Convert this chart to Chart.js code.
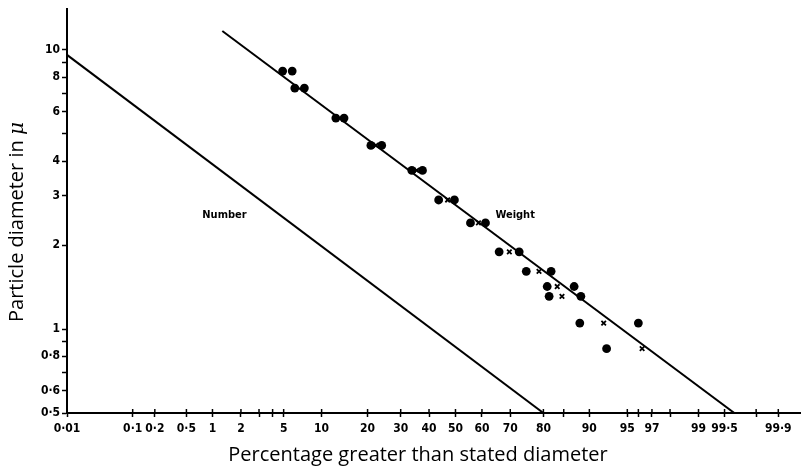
<!DOCTYPE html>
<html>
<head>
<meta charset="utf-8">
<script src="https://cdn.jsdelivr.net/npm/chart.js@4/dist/chart.umd.min.js"></script>
<style>
html,body{margin:0;padding:0;background:#fff;}
#wrap{width:806px;height:473px;position:relative;}
</style>
</head>
<body>
<div id="wrap"><canvas id="c" width="806" height="473"></canvas></div>
<script>
// ---------- data ----------
const xTickPercents = [0.01,0.1,0.2,0.5,1,2,5,10,20,30,40,50,60,70,80,90,95,97,99,99.5,99.9];
const xTickLabels   = ['0·01','0·1','0·2','0·5','1','2','5','10','20','30','40','50','60','70','80','90','95','97','99','99·5','99·9'];
const xMinorPercents = [3,4,85,96,98,99.8];
const yTickValues = [0.5,0.6,0.7,0.8,0.9,1,2,3,4,5,6,7,8,9,10];
const yTickLabels = ['0·5','0·6','','0·8','','1','2','3','4','','6','','8','','10'];

const numberLinePct = [0.01, 80];
const numberLineDia = [9.6, 0.5];
const weightLinePct = [1.28, 99.62];
const weightLineDia = [11.7, 0.5];

const dotsLeftPct  = [4.9, 6.2, 12.6, 20.9, 33.8, 43.6, 55.7, 66.2, 75.1, 81.0, 81.5, 88.3, 92.6];
const dotsLeftDia  = [8.4, 7.3, 5.7, 4.55, 3.7, 2.9, 2.4, 1.89, 1.61, 1.42, 1.31, 1.05, 0.85];
const dotsRightPct = [5.9, 7.4, 14.3, 24.0, 37.6, 49.6, 61.3, 72.9, 82.0, 87.2, 88.5, 96.0];
const dotsRightDia = [8.4, 7.3, 5.7, 4.55, 3.7, 2.9, 2.4, 1.89, 1.61, 1.42, 1.31, 1.05];
const crossPct = [22.3, 35.5, 47.0, 58.7, 69.7, 78.8, 83.5, 84.6, 92.2, 96.3];
const crossDia = [4.55, 3.7, 2.9, 2.4, 1.89, 1.61, 1.42, 1.31, 1.05, 0.85];

const curveLabels = ['Number', 'Weight'];
const curveLabelPct = [1.35, 71.6];
const curveLabelDia = [2.55, 2.55];

const xTitle = 'Percentage greater than stated diameter';
const yTitle = 'Particle diameter in ';
const yTitleUnit = 'μ';

// ---------- probability (probit) transform ----------
function probit(p){
  const a=[-3.969683028665376e+01,2.209460984245205e+02,-2.759285104469687e+02,1.383577518672690e+02,-3.066479806614716e+01,2.506628277459239e+00];
  const b=[-5.447609879822406e+01,1.615858368580409e+02,-1.556989798598866e+02,6.680131188771972e+01,-1.328068155288572e+01];
  const c=[-7.784894002430293e-03,-3.223964580411365e-01,-2.400758277161838e+00,-2.549732539343734e+00,4.374664141464968e+00,2.938163982698783e+00];
  const d=[7.784695709041462e-03,3.224671290700398e-01,2.445134137142996e+00,3.754408661907416e+00];
  const pl=0.02425, ph=1-pl; let q,r;
  if(p<pl){q=Math.sqrt(-2*Math.log(p));return (((((c[0]*q+c[1])*q+c[2])*q+c[3])*q+c[4])*q+c[5])/((((d[0]*q+d[1])*q+d[2])*q+d[3])*q+1);}
  if(p<=ph){q=p-0.5;r=q*q;return (((((a[0]*r+a[1])*r+a[2])*r+a[3])*r+a[4])*r+a[5])*q/(((((b[0]*r+b[1])*r+b[2])*r+b[3])*r+b[4])*r+1);}
  q=Math.sqrt(-2*Math.log(1-p));return -(((((c[0]*q+c[1])*q+c[2])*q+c[3])*q+c[4])*q+c[5])/((((d[0]*q+d[1])*q+d[2])*q+d[3])*q+1);
}
const zOf = pct => probit(pct/100);
const pts = (P, D) => P.map((p,i)=>({x:zOf(p), y:D[i]}));

const xTicksAll = xTickPercents.map((p,i)=>({value:zOf(p), label:xTickLabels[i]}))
  .concat(xMinorPercents.map(p=>({value:zOf(p), label:''})))
  .sort((a,b)=>a.value-b.value);

const tickFont = {family:"'Liberation Sans Narrow','DejaVu Sans Condensed','Liberation Sans',sans-serif", size:12, weight:'bold'};

const textPlugin = {
  id:'texts',
  afterDraw(chart){
    const ctx = chart.ctx, xs = chart.scales.x, ys = chart.scales.y;
    ctx.save();
    ctx.fillStyle = '#000';
    ctx.strokeStyle = '#000';
    // inward halves of the x tick marks
    ctx.lineWidth = 1.5;
    xTicksAll.forEach(t=>{
      const px = xs.getPixelForValue(t.value);
      ctx.beginPath(); ctx.moveTo(px, xs.top); ctx.lineTo(px, xs.top - 4); ctx.stroke();
    });
    // curve labels
    ctx.font = "bold 11px 'Liberation Sans Narrow','DejaVu Sans Condensed',sans-serif";
    ctx.textAlign = 'center'; ctx.textBaseline = 'middle';
    curveLabels.forEach((t,i)=>{
      ctx.fillText(t, xs.getPixelForValue(zOf(curveLabelPct[i])), ys.getPixelForValue(curveLabelDia[i]));
    });
    // x title
    ctx.font = "20px 'Open Sans',sans-serif";
    ctx.textAlign = 'center'; ctx.textBaseline = 'alphabetic';
    ctx.fillText(xTitle, 418, 461);
    // y title (rotated), italic unit
    ctx.translate(23, 222);
    ctx.rotate(-Math.PI/2);
    ctx.font = "20px 'Open Sans',sans-serif";
    const w1 = ctx.measureText(yTitle).width;
    ctx.font = "italic 20px 'DejaVu Serif',serif";
    const w2 = ctx.measureText(yTitleUnit).width;
    const start = -(w1+w2)/2;
    ctx.textAlign = 'left';
    ctx.font = "20px 'Open Sans',sans-serif";
    ctx.fillText(yTitle, start, 0);
    ctx.font = "italic 20px 'DejaVu Serif',serif";
    ctx.fillText(yTitleUnit, start + w1, 0);
    ctx.restore();
  }
};

new Chart(document.getElementById('c'), {
  type:'scatter',
  data:{
    datasets:[
      {label:'Number', data:pts(numberLinePct, numberLineDia), showLine:true, borderColor:'#000', borderWidth:2, pointRadius:0, fill:false},
      {label:'Weight', data:pts(weightLinePct, weightLineDia), showLine:true, borderColor:'#000', borderWidth:2, pointRadius:0, fill:false},
      {label:'dots A', data:pts(dotsLeftPct, dotsLeftDia), pointStyle:'circle', pointRadius:4.4, backgroundColor:'#000', borderColor:'#000', borderWidth:0},
      {label:'dots B', data:pts(dotsRightPct, dotsRightDia), pointStyle:'circle', pointRadius:4.4, backgroundColor:'#000', borderColor:'#000', borderWidth:0},
      {label:'crosses', data:pts(crossPct, crossDia), pointStyle:'crossRot', pointRadius:3.2, borderColor:'#000', borderWidth:1.8}
    ]
  },
  options:{
    responsive:false,
    animation:false,
    devicePixelRatio:1,
    layout:{padding:{top:5,right:3,left:0,bottom:0}},
    plugins:{legend:{display:false}, tooltip:{enabled:false}},
    scales:{
      x:{
        type:'linear',
        min:zOf(0.01), max:3.30,
        afterBuildTicks(scale){ scale.ticks = xTicksAll.map(t=>({value:t.value})); },
        afterFit(scale){ scale.height = 60; },
        ticks:{autoSkip:false, maxRotation:0, color:'#000', font:tickFont, padding:5,
               callback:(v,i)=>xTicksAll[i] ? xTicksAll[i].label : ''},
        grid:{drawOnChartArea:false, drawTicks:true, tickLength:4, tickColor:'#000', tickWidth:1.5},
        border:{display:true, color:'#000', width:2}
      },
      y:{
        type:'logarithmic',
        min:0.5, max:14,
        afterBuildTicks(scale){ scale.ticks = yTickValues.map(v=>({value:v})); },
        afterFit(scale){ scale.width = 67; },
        ticks:{autoSkip:false, color:'#000', font:tickFont, padding:2,
               callback:(v,i)=>yTickLabels[i] !== undefined ? yTickLabels[i] : ''},
        grid:{drawOnChartArea:false, drawTicks:true, tickLength:5, tickColor:'#000', tickWidth:1.5},
        border:{display:true, color:'#000', width:2}
      }
    }
  },
  plugins:[textPlugin]
});
</script>
</body>
</html>
